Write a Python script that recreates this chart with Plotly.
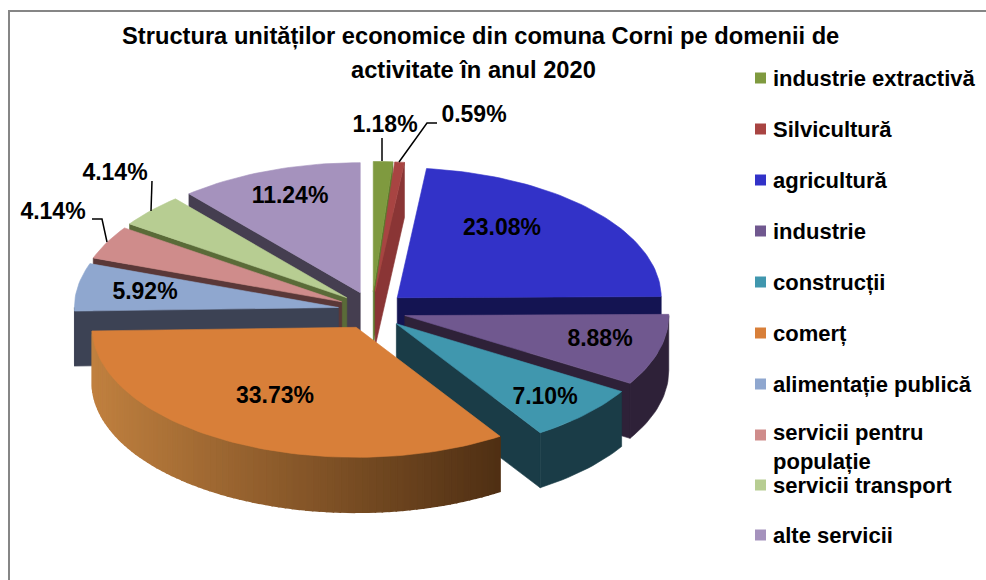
import math
import plotly.graph_objects as go

TITLE_LINES = ["Structura unităților economice din comuna Corni pe domenii de", "activitate în anul 2020"]
categories = ["industrie extractivă", "Silvicultură", "agricultură", "industrie", "construcții",
              "comerț", "alimentație publică", "servicii pentru<br>populație", "servicii transport", "alte servicii"]
values = [1.18, 0.59, 23.08, 8.88, 7.10, 33.73, 5.92, 4.14, 4.14, 11.24]
face_colors = ["#7f9a3f", "#a84442", "#3232c8", "#70588f", "#4097ae",
               "#d87f39", "#8fa7cf", "#cf8c8b", "#b7cd92", "#a592bd"]
wall_colors = ["#5c7a2c", "#8a3535", "#141452", "#2e2138", "#1a3c47",
               "#8a5526", "#3c4254", "#5a3838", "#5a6b38", "#453e50"]

# geometry of the tilted, exploded pie (page pixels)
CX, CY, RX, RY, DEPTH = 372, 310.5, 264, 130, 55
EX, EY = 34, 19
DRAW_ORDER = [9, 8, 7, 6, 0, 1, 2, 3, 4, 5]
LABEL_POS = [(385, 126), (474, 116), (502, 229), (600, 340), (545, 398),
             (275, 397), (145, 293), (53, 213), (115, 174), (290, 197)]
LEADERS = [[(382, 138), (382, 161)],
           [(437, 123), (427, 123), (399, 162)],
           [(92, 219), (102, 219), (107, 242)],
           [(152, 181), (151, 211)]]
LEG_Y = [78, 129, 180, 231, 282, 333, 384, 435, 485, 535]
LEG_TEXT_Y = [78, 129, 180, 231, 282, 333, 384, 447, 485, 535]
FONT = "Liberation Sans, Arial, sans-serif"

fig = go.Figure()


def poly(xs, ys, color, lw=0.6):
    fig.add_trace(go.Scatter(x=xs, y=ys, mode="lines", fill="toself", fillcolor=color,
                             line=dict(color=color, width=lw), hoverinfo="skip", showlegend=False))


def lerp_hex(a, b, t):
    pa = [int(a[i:i + 2], 16) for i in (1, 3, 5)]
    pb = [int(b[i:i + 2], 16) for i in (1, 3, 5)]
    return "#%02x%02x%02x" % tuple(round(p + (q - p) * t) for p, q in zip(pa, pb))


total = sum(values)
angles = [0.0]
for v in values:
    angles.append(angles[-1] + v / total * 360)


def rim(ax, ay, deg):
    r = math.radians(deg)
    return ax + RX * math.sin(r), ay - RY * math.cos(r)


for i in DRAW_ORDER:
    a0, a1 = angles[i], angles[i + 1]
    mid = math.radians((a0 + a1) / 2)
    ax, ay = CX + EX * math.sin(mid), CY - EY * math.cos(mid)
    # cut walls facing the viewer
    for deg, vis in ((a0, math.sin(math.radians(a0)) < 0), (a1, math.sin(math.radians(a1)) > 0)):
        if vis:
            px, py = rim(ax, ay, deg)
            poly([ax, px, px, ax, ax], [ay, py, py + DEPTH, ay + DEPTH, ay], wall_colors[i])
    # outer wall
    lo, hi = max(a0, 90), min(a1, 270)
    if hi > lo:
        if i == 5:
            # shaded side: one band per small angular step, drawn right to left so each overlaps the last
            n = int((hi - lo) / 1.5)
            for k in range(n):
                d0 = lo + (hi - lo) * k / n
                d1 = lo + (hi - lo) * (k + 1) / n
                x0, y0 = rim(ax, ay, d0)
                x1, y1 = rim(ax, ay, d1)
                t = max(0, min(1, ((x0 + x1) / 2 - 92) / 407))
                col = lerp_hex("#c0803f", "#4f2f13", t)
                poly([x0, x1, x1, x0, x0], [y0, y1, y1 + DEPTH, y0 + DEPTH, y0], col, lw=1.6)
        else:
            n = max(2, int((hi - lo) / 1.5))
            pts = [rim(ax, ay, lo + (hi - lo) * k / n) for k in range(n + 1)]
            poly([p[0] for p in pts] + [p[0] for p in reversed(pts)] + [pts[0][0]],
                 [p[1] for p in pts] + [p[1] + DEPTH for p in reversed(pts)] + [pts[0][1]], wall_colors[i])
    # top face
    n = max(2, int((a1 - a0) / 1.5))
    pts = [rim(ax, ay, a0 + (a1 - a0) * k / n) for k in range(n + 1)]
    poly([ax] + [p[0] for p in pts] + [ax], [ay] + [p[1] for p in pts] + [ay], face_colors[i])

for line in LEADERS:
    fig.add_trace(go.Scatter(x=[p[0] for p in line], y=[p[1] for p in line], mode="lines",
                             line=dict(color="#000000", width=1.5), hoverinfo="skip", showlegend=False))

fig.add_trace(go.Scatter(x=[p[0] for p in LABEL_POS], y=[p[1] for p in LABEL_POS], mode="text",
                         text=[f"{v:.2f}%" for v in values], textposition="middle center",
                         textfont=dict(family=FONT, size=23, color="#000000"),
                         texttemplate="<b>%{text}</b>", hoverinfo="skip", showlegend=False))

# legend
fig.add_trace(go.Scatter(x=[760.5] * len(categories), y=LEG_Y, mode="markers",
                         marker=dict(symbol="square", size=11, color=face_colors, line=dict(width=0)),
                         hoverinfo="skip", showlegend=False))
for cat, y in zip(categories, LEG_TEXT_Y):
    fig.add_annotation(x=771, y=y, text=f"<b>{cat}</b>", showarrow=False, xanchor="left", yanchor="middle",
                       align="left", font=dict(family=FONT, size=22, color="#000000"))

fig.add_annotation(x=480, y=36, text=f"<b>{TITLE_LINES[0]}</b>", showarrow=False, xanchor="center", yanchor="middle",
                   font=dict(family=FONT, size=23.7, color="#000000"))
fig.add_annotation(x=473, y=70, text=f"<b>{TITLE_LINES[1]}</b>", showarrow=False, xanchor="center", yanchor="middle",
                   font=dict(family=FONT, size=23.7, color="#000000"))

fig.update_layout(
    width=986, height=580, margin=dict(l=0, r=0, t=0, b=0),
    paper_bgcolor="#ffffff", plot_bgcolor="#ffffff",
    xaxis=dict(range=[0, 986], visible=False, fixedrange=True),
    yaxis=dict(range=[580, 0], visible=False, fixedrange=True),
    shapes=[dict(type="rect", xref="x", yref="y", x0=9, y0=11, x1=1010, y1=600,
                 line=dict(color="#868686", width=2), layer="below")],
)
fig.write_html("out.html", post_script="document.body.style.margin='0';", config={"displayModeBar": False})
